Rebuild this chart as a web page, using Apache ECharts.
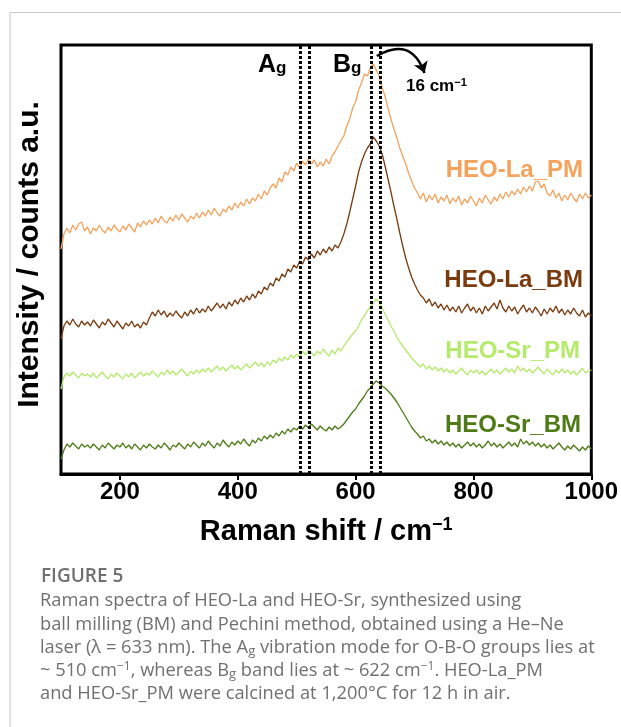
<!DOCTYPE html>
<html>
<head>
<meta charset="utf-8">
<style>
  html, body { margin: 0; padding: 0; background: #fff; }
  #chart { width: 621px; height: 727px; }
</style>
<script src="https://cdn.jsdelivr.net/npm/echarts@6/dist/echarts.min.js"></script>
</head>
<body>
<div id="chart"></div>
<script>
// Raman shift grid: first point and spacing (cm^-1)
const shiftStart = 100;
const shiftStep = 5;
const shiftTicks = [200, 400, 600, 800, 1000];

// Stacked intensities (a.u., already offset), one value per grid point, 100 → 1000 cm^-1
const laPM = [
  225, 240, 246, 241, 249, 244, 250, 252, 243, 247,   // 100–145
  240, 246, 243, 249, 244, 241, 247, 243, 249, 245,   // 150–195
  242, 248, 244, 250, 246, 242, 251, 247, 253, 249,   // 200–245
  254, 250, 256, 251, 258, 253, 251, 257, 253, 259,   // 250–295
  254, 260, 256, 252, 258, 255, 261, 256, 262, 258,   // 300–345
  264, 259, 266, 261, 258, 265, 262, 268, 264, 271,   // 350–395
  266, 272, 268, 275, 270, 276, 273, 280, 275, 283,   // 400–445
  279, 286, 290, 286, 296, 292, 302, 299, 307, 303,   // 450–495
  311, 306, 313, 309, 315, 310, 314, 307, 312, 308,   // 500–545
  315, 310, 318, 322, 328, 333, 338, 348, 355, 366,   // 550–595
  372, 384, 391, 400, 398, 406, 410, 404, 398, 386,   // 600–645
  378, 366, 355, 345, 336, 326, 318, 310, 301, 293,   // 650–695
  286, 281, 275, 281, 272, 279, 274, 280, 271, 277,   // 700–745
  273, 279, 270, 276, 272, 278, 269, 275, 271, 278,   // 750–795
  273, 268, 276, 271, 279, 274, 270, 277, 273, 280,   // 800–845
  275, 282, 277, 283, 279, 285, 280, 287, 282, 288,   // 850–895
  283, 292, 293, 286, 290, 281, 278, 284, 276, 281,   // 900–945
  273, 279, 274, 281, 276, 272, 280, 275, 281, 276,   // 950–995
  279                                                 // 1000
];
const laBM = [
  135, 148, 153, 149, 155, 150, 147, 153, 149, 152,
  148, 154, 150, 146, 152, 149, 155, 151, 147, 153,
  149, 145, 151, 148, 153, 147, 150, 146, 152, 149,
  156, 162, 158, 164, 159, 163, 157, 161, 158, 163,
  159, 156, 162, 158, 164, 160, 166, 161, 165, 162,
  168, 163, 167, 171, 166, 170, 165, 172, 168, 174,
  170, 176, 172, 178, 174, 180, 176, 183, 180, 187,
  184, 191, 188, 196, 193, 200, 197, 205, 202, 209,
  206, 213, 210, 217, 214, 220, 216, 223, 219, 225,
  221, 227, 223, 229, 226, 232, 240, 250, 262, 275,
  288, 302, 312, 320, 326, 330, 337, 333, 328, 320,
  308, 295, 282, 268, 255, 241, 228, 216, 206, 197,
  190, 184, 179, 176, 171, 175, 168, 172, 166, 170,
  164, 169, 163, 167, 162, 168, 161, 166, 170, 163,
  167, 161, 166, 160, 168, 163, 167, 171, 165, 174,
  166, 162, 168, 163, 167, 160, 165, 169, 162, 166,
  161, 167, 163, 158, 165, 160, 166, 162, 168, 161,
  165, 159, 164, 160, 166, 161, 158, 164, 157, 161,
  158
];
const srPM = [
  85, 97, 101, 98, 102, 99, 96, 101, 98, 100,
  97, 101, 96, 99, 102, 98, 95, 100, 97, 101,
  98, 95, 100, 97, 101, 96, 99, 102, 98, 101,
  99, 103, 100, 97, 102, 99, 104, 100, 103, 99,
  102, 105, 101, 98, 103, 100, 104, 101, 105, 102,
  106, 102, 105, 108, 104, 107, 103, 106, 109, 105,
  108, 104, 107, 110, 106, 109, 112, 108, 111, 107,
  112, 109, 114, 111, 116, 113, 117, 114, 119, 116,
  120, 117, 123, 119, 124, 121, 118, 123, 120, 125,
  121, 118, 124, 120, 126, 123, 128, 132, 136, 140,
  143, 148, 154, 158, 163, 167, 171, 175, 172, 166,
  160, 154, 148, 143, 137, 132, 128, 124, 120, 116,
  113, 110, 107, 110, 105, 108, 104, 107, 103, 106,
  102, 105, 101, 104, 100, 103, 106, 102, 99, 104,
  101, 104, 100, 103, 99, 102, 105, 101, 104, 100,
  103, 106, 102, 105, 101, 108, 103, 106, 102, 105,
  101, 104, 107, 103, 100, 105, 102, 99, 104, 101,
  105, 101, 104, 100, 103, 99, 102, 106, 101, 103,
  104
];
const srBM = [
  15, 24, 30, 27, 31, 28, 25, 30, 27, 29,
  26, 30, 27, 24, 29, 26, 31, 28, 25, 29,
  27, 31, 26, 29, 25, 30, 27, 24, 29, 26,
  30, 27, 25, 29, 26, 31, 28, 24, 29, 27,
  31, 28, 25, 30, 27, 32, 29, 26, 31, 28,
  33, 29, 26, 31, 28, 34, 30, 27, 32, 29,
  33, 30, 35, 31, 28, 34, 31, 36, 33, 38,
  35, 39, 36, 41, 38, 43, 40, 45, 42, 46,
  44, 48, 45, 49, 46, 50, 47, 44, 48, 45,
  43, 47, 44, 48, 45, 47, 50, 54, 58, 62,
  65, 70, 74, 78, 83, 86, 90, 93, 91, 88,
  86, 83, 80, 76, 72, 67, 62, 57, 52, 47,
  43, 40, 36, 38, 33, 35, 31, 34, 30, 33,
  29, 32, 28, 31, 27, 30, 26, 29, 32, 28,
  31, 27, 30, 26, 29, 33, 28, 31, 27, 30,
  26, 29, 32, 28, 31, 27, 35, 30, 33, 29,
  32, 28, 31, 27, 30, 26, 29, 25, 28, 31,
  27, 24, 28, 25, 29, 26, 23, 27, 24, 28,
  25
];

// Ag pair and Bg pair of guide lines (cm^-1)
const modeLines = [506, 522, 627, 641];
// Bg shift arrow: from / to (cm^-1, a.u.)
const shiftArrowFrom = [636, 418];
const shiftArrowTo = [717, 401];

const seriesNames = ['HEO-La_PM', 'HEO-La_BM', 'HEO-Sr_PM', 'HEO-Sr_BM'];
const seriesColors = ['#F5A25D', '#7A3B0F', '#B6EA6C', '#4E7B16'];
const seriesValues = [laPM, laBM, srPM, srBM];

const toPairs = vals => vals.map((v, i) => [shiftStart + i * shiftStep, v]);

const chartFont = '"Liberation Sans", Arial, Helvetica, sans-serif';
const captionFont = '"Open Sans", "Noto Sans", sans-serif';
const captionColor = '#707070';

const series = seriesValues.map((vals, k) => ({
  name: seriesNames[k],
  type: 'line',
  data: toPairs(vals),
  showSymbol: false,
  symbol: 'none',
  lineStyle: { color: seriesColors[k], width: 1.3 },
  z: 2
}));

// dotted mode guides
series[3].markLine = {
  silent: true,
  symbol: ['none', 'none'],
  label: { show: false },
  lineStyle: { color: '#000', width: 3, type: [3, 2] },
  data: modeLines.map(v => ({ xAxis: v })),
  z: 5
};

// curved arrow marking the Bg shift
series.push({
  type: 'lines',
  coordinateSystem: 'cartesian2d',
  silent: true,
  z: 6,
  symbol: ['none', 'arrow'],
  symbolSize: 11,
  lineStyle: { color: '#000', width: 2.5, curveness: 0.6, opacity: 1 },
  data: [{ coords: [shiftArrowFrom, shiftArrowTo] }]
});

const labelRows = [
  { y: 170, x: 583 },
  { y: 280, x: 583 },
  { y: 351, x: 580 },
  { y: 425, x: 581 }
];

const graphic = [
  // figure panel frame
  { type: 'line', silent: true, shape: { x1: 10, y1: 12.5, x2: 621, y2: 12.5 }, style: { stroke: '#c9c9c9', lineWidth: 1 } },
  { type: 'line', silent: true, shape: { x1: 10, y1: 12.5, x2: 10, y2: 727 }, style: { stroke: '#c9c9c9', lineWidth: 1 } }
];

seriesNames.forEach((n, k) => {
  graphic.push({
    type: 'text', silent: true, z: 10,
    style: {
      text: n, x: labelRows[k].x, y: labelRows[k].y,
      align: 'right', verticalAlign: 'middle',
      fontFamily: chartFont, fontWeight: 'bold', fontSize: 24,
      fill: seriesColors[k]
    }
  });
});

const modeRich = {
  m: { fontFamily: chartFont, fontWeight: 'bold', fontSize: 25, lineHeight: 24, fill: '#000' },
  s: { fontFamily: chartFont, fontWeight: 'bold', fontSize: 17, lineHeight: 4, verticalAlign: 'bottom', fill: '#000' }
};
graphic.push(
  { type: 'text', silent: true, z: 10, style: { text: '{m|A}{s|g}', x: 258, y: 65, align: 'left', verticalAlign: 'middle', rich: modeRich } },
  { type: 'text', silent: true, z: 10, style: { text: '{m|B}{s|g}', x: 333, y: 65, align: 'left', verticalAlign: 'middle', rich: modeRich } },
  {
    type: 'text', silent: true, z: 10,
    style: {
      text: '{m|16 cm}{p|−1}', x: 406, y: 86, align: 'left', verticalAlign: 'middle',
      rich: {
        m: { fontFamily: chartFont, fontWeight: 'bold', fontSize: 17, lineHeight: 18, fill: '#000' },
        p: { fontFamily: chartFont, fontWeight: 'bold', fontSize: 11, lineHeight: 11, verticalAlign: 'top', fill: '#000' }
      }
    }
  }
);

// caption block
const capRich = {
  sub: { fontFamily: captionFont, fontSize: 13, lineHeight: 4, verticalAlign: 'bottom', fill: captionColor },
  sup: { fontFamily: captionFont, fontSize: 12, lineHeight: 12, verticalAlign: 'top', fill: captionColor }
};
const captionLines = [
  'Raman spectra of HEO-La and HEO-Sr, synthesized using',
  'ball milling (BM) and Pechini method, obtained using a He–Ne',
  'laser (λ = 633 nm). The A{sub|g} vibration mode for O-B-O groups lies at',
  '~ 510 cm{sup|−1}, whereas B{sub|g} band lies at ~ 622 cm{sup|−1}. HEO-La_PM',
  'and HEO-Sr_PM were calcined at 1,200°C for 12 h in air.'
];
graphic.push({
  type: 'text', silent: true,
  style: {
    text: 'FIGURE 5', x: 41, y: 577, align: 'left', verticalAlign: 'middle',
    fontFamily: captionFont, fontWeight: 600, fontSize: 19, fill: captionColor
  }
});
captionLines.forEach((t, i) => {
  graphic.push({
    type: 'text', silent: true,
    style: {
      text: t, x: 40, y: 601 + i * 23.3, align: 'left', verticalAlign: 'middle',
      fontFamily: captionFont, fontSize: 18.3, lineHeight: 20, fill: captionColor, rich: capRich
    }
  });
});

const chart = echarts.init(document.getElementById('chart'), null, { renderer: 'canvas' });
chart.setOption({
  animation: false,
  backgroundColor: '#fff',
  grid: {
    left: 61, right: 28, top: 45, bottom: 253,
    show: true, borderColor: '#000', borderWidth: 3, backgroundColor: 'transparent'
  },
  xAxis: {
    type: 'value',
    min: 100, max: 1000,
    name: '{t|Raman shift / cm}{s|−1}',
    nameLocation: 'middle',
    nameGap: 42,
    nameTextStyle: {
      rich: {
        t: { fontFamily: chartFont, fontWeight: 'bold', fontSize: 29, lineHeight: 32, color: '#000' },
        s: { fontFamily: chartFont, fontWeight: 'bold', fontSize: 18, lineHeight: 18, verticalAlign: 'top', color: '#000' }
      }
    },
    axisLine: { show: true, lineStyle: { color: '#000', width: 3 } },
    axisTick: { show: true, length: 6, lineStyle: { color: '#000', width: 2 }, customValues: shiftTicks },
    axisLabel: {
      customValues: shiftTicks,
      formatter: v => String(v),
      margin: 6,
      fontFamily: chartFont, fontWeight: 'bold', fontSize: 24, color: '#000'
    },
    splitLine: { show: false }
  },
  yAxis: {
    type: 'value',
    min: 0, max: 429,
    name: 'Intensity / counts a.u.',
    nameLocation: 'middle',
    nameGap: 16,
    nameRotate: 90,
    nameTextStyle: { fontFamily: chartFont, fontWeight: 'bold', fontSize: 30, color: '#000', padding: [0, 0, 0, 10] },
    axisLine: { show: false },
    axisTick: { show: false },
    axisLabel: { show: false },
    splitLine: { show: false }
  },
  graphic: graphic,
  series: series
});
</script>
</body>
</html>
